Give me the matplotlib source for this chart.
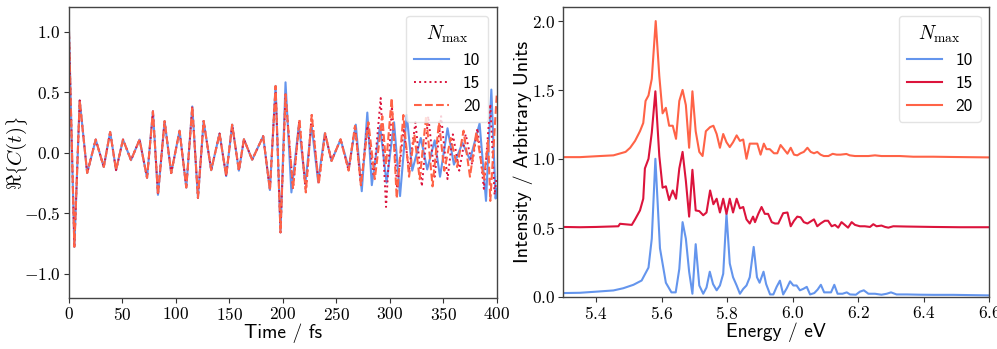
import matplotlib
matplotlib.use("Agg")
import matplotlib.pyplot as plt

plt.rcParams['font.family'] = ['cmr10']
plt.rcParams['mathtext.fontset'] = 'cm'
plt.rcParams['axes.formatter.use_mathtext'] = True
plt.rcParams['axes.unicode_minus'] = True

# ---------------- Left panel: real part of autocorrelation ----------------
t_common = [0, 5, 10, 17, 25, 32.5, 38.5, 44, 50.5, 58, 66, 73, 78.5, 83.2, 89.4, 95.6,
            103.4, 109.7, 115.3, 120.6, 125.9, 133, 140.8, 147, 152.6, 158.9, 163.6,
            171.3, 181.6, 187.9, 193.2, 197.8]
c_common = [1.0, -0.78, 0.43, -0.17, 0.107, -0.12, 0.17, -0.146, 0.107, -0.063, 0.107,
            -0.21, 0.34, -0.35, 0.26, -0.17, 0.18, -0.29, 0.38, -0.375, 0.26, -0.146,
            0.157, -0.195, 0.23, -0.15, 0.11, -0.06, 0.135, -0.31, 0.55, -0.66]

t_10_late = [202.5, 208, 215, 221, 226.8, 233, 239.3, 245.5, 254, 261.7, 268.2, 273.8,
             279, 283.2, 290.9, 297, 304, 309.6, 315.9, 321, 329, 335, 342, 347, 354,
             360, 368, 375, 384, 390, 395, 399, 400]
c_10_late = [0.58, -0.33, 0.23, -0.26, 0.23, -0.24, 0.16, -0.07, 0.107, -0.13, 0.23, -0.32,
             0.33, -0.27, 0.22, -0.25, 0.25, -0.36, 0.31, -0.15, 0.12, -0.14, 0.1, -0.2,
             0.2, -0.1, 0.08, -0.06, 0.24, -0.4, 0.52, -0.38, -0.3]

t_15_late = [202.5, 209.5, 215.5, 221.5, 227, 233.5, 239.5, 245.5, 254, 261.5, 267.5, 273,
             279, 285, 291.5, 296.5, 302, 307, 313, 318, 324, 330, 336, 342, 348, 354,
             359, 365, 371, 377, 382, 388, 394, 398, 400]
c_15_late = [0.48, -0.3, 0.27, -0.33, 0.31, -0.26, 0.16, -0.07, 0.11, -0.15, 0.22, -0.27,
             0.22, -0.2, 0.45, -0.45, 0.38, -0.3, 0.2, -0.15, 0.25, -0.28, 0.3, -0.2,
             0.3, -0.22, 0.15, -0.15, 0.15, -0.1, 0.2, -0.3, 0.4, -0.35, -0.2]

t_20_late = [202.5, 209.5, 215.5, 221.5, 227, 233.5, 239.5, 245.5, 254, 261.5, 267.5, 273,
             280, 286, 293, 296.5, 301.8, 306.5, 312.7, 318, 323, 328, 334, 340, 346,
             351, 357, 363, 369, 375, 381, 388, 392, 394, 400]
c_20_late = [0.48, -0.3, 0.27, -0.33, 0.31, -0.26, 0.16, -0.07, 0.11, -0.15, 0.22, -0.27,
             0.25, -0.22, 0.3, -0.1, 0.45, -0.38, 0.31, -0.2, 0.15, -0.22, 0.3, -0.28,
             0.25, -0.15, 0.12, -0.12, 0.18, -0.2, 0.17, -0.22, 0.1, -0.4, 0.47]

nmax_labels = ["10", "15", "20"]

# ---------------- Right panel: spectra (offset) ----------------
e_10 = [5.30, 5.351, 5.40, 5.453, 5.483, 5.514, 5.539, 5.56, 5.57, 5.581, 5.595, 5.613,
        5.63, 5.643, 5.654, 5.664, 5.674, 5.684, 5.694, 5.704, 5.715, 5.727, 5.737, 5.747,
        5.757, 5.768, 5.778, 5.788, 5.798, 5.808, 5.818, 5.829, 5.839, 5.849, 5.859, 5.869,
        5.881, 5.891, 5.899, 5.911, 5.919, 5.931, 5.941, 5.951, 5.961, 5.971, 5.982, 5.992,
        6.002, 6.012, 6.022, 6.032, 6.043, 6.053, 6.066, 6.076, 6.086, 6.096, 6.106, 6.117,
        6.127, 6.137, 6.152, 6.165, 6.175, 6.193, 6.205, 6.217, 6.231, 6.251, 6.271, 6.287,
        6.3, 6.317, 6.348, 6.388, 6.429, 6.49, 6.6]
i_10 = [0.025, 0.027, 0.035, 0.044, 0.06, 0.085, 0.116, 0.21, 0.42, 1.0, 0.35, 0.10,
        0.03, 0.03, 0.2, 0.54, 0.42, 0.18, 0.02, 0.38, 0.08, 0.02, 0.065, 0.18,
        0.09, 0.045, 0.08, 0.165, 0.6, 0.24, 0.14, 0.08, 0.02, 0.055, 0.08, 0.14,
        0.36, 0.14, 0.1, 0.18, 0.09, 0.015, 0.015, 0.07, 0.115, 0.015, 0.06, 0.11,
        0.08, 0.08, 0.045, 0.055, 0.07, 0.015, 0.025, 0.05, 0.085, 0.03, 0.03, 0.03,
        0.085, 0.02, 0.02, 0.03, 0.015, 0.013, 0.035, 0.045, 0.02, 0.02, 0.013, 0.02,
        0.03, 0.015, 0.015, 0.013, 0.012, 0.012, 0.008]

e_15 = [5.30, 5.351, 5.40, 5.468, 5.473, 5.509, 5.519, 5.534, 5.544, 5.549, 5.56, 5.57,
        5.581, 5.593, 5.603, 5.613, 5.623, 5.634, 5.644, 5.654, 5.664, 5.674, 5.684,
        5.694, 5.704, 5.715, 5.727, 5.737, 5.748, 5.758, 5.768, 5.778, 5.788, 5.798,
        5.808, 5.818, 5.829, 5.839, 5.849, 5.859, 5.869, 5.879, 5.885, 5.895, 5.905,
        5.915, 5.925, 5.936, 5.946, 5.956, 5.971, 5.984, 5.994, 6.004, 6.014, 6.024,
        6.034, 6.045, 6.065, 6.075, 6.085, 6.098, 6.108, 6.119, 6.129, 6.139, 6.149,
        6.159, 6.169, 6.18, 6.19, 6.205, 6.22, 6.236, 6.246, 6.256, 6.271, 6.282, 6.292,
        6.307, 6.348, 6.43, 6.51, 6.6]
i_15 = [0.505, 0.503, 0.505, 0.51, 0.528, 0.52, 0.56, 0.625, 0.71, 0.93, 1.0, 1.19,
        1.49, 1.02, 0.79, 0.80, 0.70, 0.77, 0.71, 0.93, 1.05, 0.84, 0.58,
        0.92, 0.625, 0.62, 0.59, 0.61, 0.77, 0.67, 0.71, 0.61, 0.71, 0.60,
        0.71, 0.61, 0.71, 0.64, 0.65, 0.56, 0.53, 0.58, 0.54, 0.6, 0.65,
        0.6, 0.6, 0.54, 0.53, 0.53, 0.605, 0.61, 0.51, 0.55, 0.58, 0.575,
        0.54, 0.53, 0.56, 0.51, 0.53, 0.55, 0.55, 0.51, 0.52, 0.5, 0.54,
        0.52, 0.5, 0.54, 0.52, 0.51, 0.51, 0.505, 0.525, 0.51, 0.515, 0.505, 0.5,
        0.51, 0.508, 0.505, 0.503, 0.503]

e_20 = [5.30, 5.351, 5.412, 5.453, 5.49, 5.504, 5.519, 5.534, 5.544, 5.551, 5.56, 5.57,
        5.582, 5.593, 5.603, 5.613, 5.623, 5.634, 5.644, 5.654, 5.664, 5.674, 5.684,
        5.694, 5.704, 5.715, 5.725, 5.735, 5.748, 5.758, 5.768, 5.778, 5.788, 5.798,
        5.808, 5.818, 5.829, 5.839, 5.849, 5.859, 5.869, 5.879, 5.892, 5.902, 5.912,
        5.92, 5.93, 5.943, 5.953, 5.963, 5.973, 5.984, 5.994, 6.004, 6.014, 6.024,
        6.034, 6.045, 6.055, 6.065, 6.075, 6.085, 6.095, 6.109, 6.122, 6.134, 6.146,
        6.164, 6.174, 6.19, 6.21, 6.231, 6.251, 6.271, 6.292, 6.327, 6.368, 6.429,
        6.49, 6.6]
i_20 = [1.012, 1.012, 1.02, 1.025, 1.05, 1.08, 1.13, 1.2, 1.26, 1.42, 1.46, 1.58,
        2.0, 1.6, 1.33, 1.37, 1.24, 1.24, 1.145, 1.42, 1.50, 1.39, 1.08,
        1.49, 1.2, 1.05, 1.02, 1.2, 1.23, 1.24, 1.18, 1.08, 1.18, 1.12,
        1.085, 1.12, 1.17, 1.13, 1.14, 1.0, 1.11, 1.11, 1.11, 1.03, 1.11,
        1.07, 1.07, 1.04, 1.04, 1.10, 1.07, 1.037, 1.08, 1.03, 1.025, 1.04,
        1.05, 1.08, 1.05, 1.04, 1.05, 1.03, 1.02, 1.02, 1.036, 1.03, 1.03,
        1.035, 1.025, 1.02, 1.02, 1.02, 1.025, 1.02, 1.02, 1.02, 1.015, 1.015,
        1.013, 1.01]

# ---------------- Figure ----------------
fig = plt.figure(figsize=(9.97, 3.49), dpi=100)
axL = fig.add_axes([69 / 997, 1 - 297.7 / 349, 427.7 / 997, 290.4 / 349])
axR = fig.add_axes([563.3 / 997, 1 - 296.5 / 349, 426 / 997, 289.2 / 349])

blue = "#6495ED"
crimson = "#DC143C"
tomato = "#FF6347"

t10 = t_common + t_10_late
c10 = c_common + c_10_late
t15 = t_common + t_15_late
c15 = c_common + c_15_late
t20 = t_common + t_20_late
c20 = c_common + c_20_late

axL.plot(t10, c10, color=blue, lw=1.5, ls='-', label=nmax_labels[0])
axL.plot(t15, c15, color=crimson, lw=1.4, ls=':', label=nmax_labels[1])
axL.plot(t20, c20, color=tomato, lw=1.5, ls='--', label=nmax_labels[2])
axL.set_xlim(0, 400)
axL.set_ylim(-1.2, 1.2)
axL.set_xticks([0, 50, 100, 150, 200, 250, 300, 350, 400])
axL.set_yticks([-1.0, -0.5, 0.0, 0.5, 1.0])
axL.set_xlabel("Time / fs", fontfamily='cmss10', fontsize=14, va='top')
axL.set_ylabel(r"$\Re\left\{C(t)\right\}$", fontsize=15)
axL.xaxis.set_label_coords(0.5, -0.09)
axL.yaxis.set_label_coords(-0.092, 0.5)

axR.plot(e_10, i_10, color=blue, lw=1.5, label=nmax_labels[0])
axR.plot(e_15, i_15, color=crimson, lw=1.5, label=nmax_labels[1])
axR.plot(e_20, i_20, color=tomato, lw=1.5, label=nmax_labels[2])
axR.set_xlim(5.3, 6.6)
axR.set_ylim(0, 2.1)
axR.set_xticks([5.4, 5.6, 5.8, 6.0, 6.2, 6.4, 6.6])
axR.set_yticks([0.0, 0.5, 1.0, 1.5, 2.0])
axR.set_xlabel("Energy / eV", fontfamily='cmss10', fontsize=14, va='top')
axR.set_ylabel("Intensity / Arbitrary Units", fontfamily='cmss10', fontsize=14.5)
axR.xaxis.set_label_coords(0.5, -0.09)
axR.yaxis.set_label_coords(-0.072, 0.5)

for ax in (axL, axR):
    ax.tick_params(labelsize=12.5, direction='out', length=3.5, width=0.8, pad=2.5,
                   colors='#333333', labelcolor='black')
    for sp in ax.spines.values():
        sp.set_color('#444444')
        sp.set_linewidth(1.0)
    leg = ax.legend(title=r"$N_{\mathrm{max}}$", loc='upper right',
                    prop={'family': 'cmss10', 'size': 12.5}, title_fontsize=14,
                    handlelength=2.0, borderaxespad=0.5, markerfirst=True,
                    handletextpad=0.8, labelspacing=0.45, borderpad=0.45)
    leg.get_frame().set_edgecolor('#dddddd')

fig.savefig("out.png", dpi=100)
